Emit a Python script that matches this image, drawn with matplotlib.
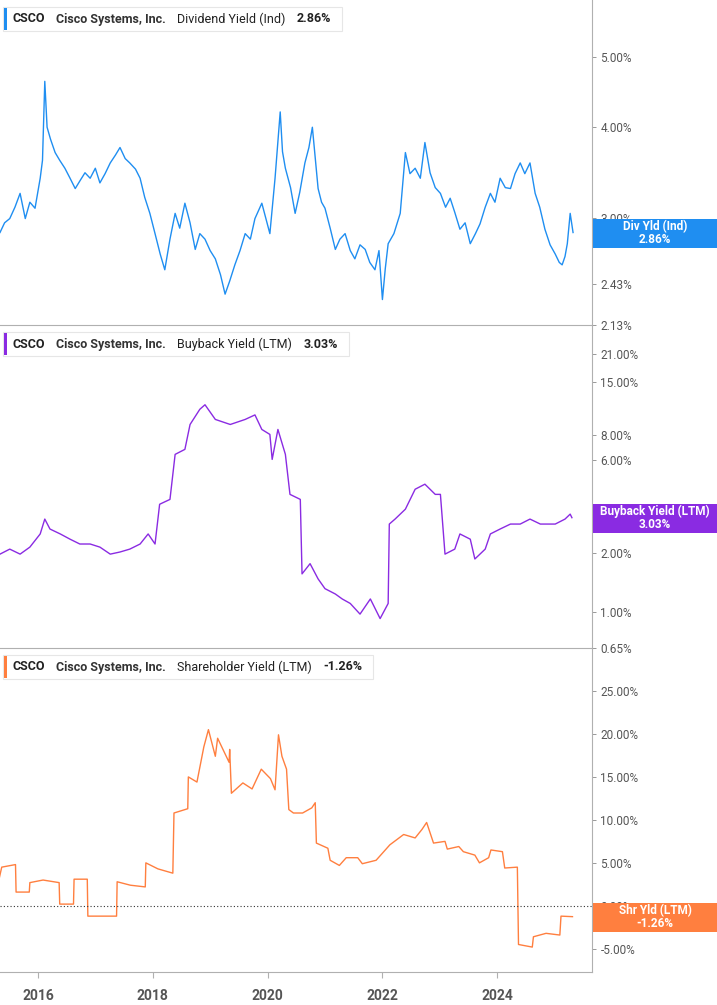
import matplotlib
matplotlib.use("Agg")
import matplotlib.pyplot as plt
from matplotlib.patches import Rectangle
import matplotlib.ticker as mticker

plt.rcParams["font.family"] = "Roboto"

# Dividend yield (Ind), %
div_years = [2015.34, 2015.42, 2015.51, 2015.60, 2015.69, 2015.78, 2015.86, 2015.95, 2016.04, 2016.08,
             2016.12, 2016.16, 2016.22, 2016.30, 2016.38, 2016.47, 2016.56, 2016.65, 2016.74, 2016.82,
             2016.91, 2017.00, 2017.08, 2017.17, 2017.26, 2017.35, 2017.43, 2017.52, 2017.60, 2017.70,
             2017.78, 2017.86, 2017.95, 2018.04, 2018.13, 2018.21, 2018.30, 2018.39, 2018.47, 2018.56,
             2018.65, 2018.74, 2018.82, 2018.91, 2019.00, 2019.09, 2019.18, 2019.26, 2019.34, 2019.43,
             2019.52, 2019.61, 2019.70, 2019.78, 2019.90, 2020.04, 2020.13, 2020.22, 2020.26, 2020.31,
             2020.40, 2020.48, 2020.56, 2020.65, 2020.72, 2020.78, 2020.88, 2020.94, 2021.00, 2021.09,
             2021.18, 2021.26, 2021.35, 2021.44, 2021.52, 2021.61, 2021.70, 2021.78, 2021.87, 2021.94,
             2022.00, 2022.05, 2022.10, 2022.20, 2022.31, 2022.40, 2022.48, 2022.57, 2022.66, 2022.74,
             2022.83, 2022.92, 2023.01, 2023.10, 2023.18, 2023.26, 2023.35, 2023.44, 2023.53, 2023.62,
             2023.70, 2023.79, 2023.88, 2023.96, 2024.05, 2024.14, 2024.23, 2024.31, 2024.40, 2024.48,
             2024.57, 2024.66, 2024.74, 2024.83, 2024.92, 2025.01, 2025.08, 2025.13, 2025.18, 2025.22,
             2025.27, 2025.32]
div_vals = [2.86, 2.95, 2.99, 3.10, 3.24, 2.99, 3.15, 3.09, 3.40, 3.60,
            4.63, 4.00, 3.85, 3.69, 3.60, 3.51, 3.40, 3.29, 3.38, 3.46,
            3.40, 3.51, 3.35, 3.45, 3.57, 3.66, 3.75, 3.62, 3.57, 3.50,
            3.40, 3.20, 3.04, 2.85, 2.67, 2.54, 2.80, 3.04, 2.90, 3.14,
            2.95, 2.71, 2.85, 2.80, 2.70, 2.63, 2.50, 2.35, 2.45, 2.58,
            2.70, 2.85, 2.80, 2.99, 3.14, 2.85, 3.40, 4.20, 3.70, 3.51,
            3.30, 3.04, 3.25, 3.57, 3.75, 4.00, 3.29, 3.15, 3.09, 2.90,
            2.71, 2.80, 2.85, 2.70, 2.63, 2.75, 2.71, 2.60, 2.54, 2.70,
            2.31, 2.55, 2.76, 2.85, 3.04, 3.69, 3.45, 3.51, 3.40, 3.81,
            3.46, 3.30, 3.24, 3.10, 3.19, 3.05, 2.89, 2.95, 2.76, 2.85,
            2.94, 3.10, 3.24, 3.15, 3.40, 3.30, 3.29, 3.45, 3.57, 3.45,
            3.57, 3.24, 3.10, 2.89, 2.75, 2.67, 2.60, 2.58, 2.65, 2.76,
            3.04, 2.86]

# Buyback yield (LTM), %
bb_years = [2015.34, 2015.51, 2015.69, 2015.86, 2016.04, 2016.12, 2016.21, 2016.39, 2016.56, 2016.73,
            2016.91, 2017.08, 2017.26, 2017.43, 2017.60, 2017.78, 2017.92, 2018.04, 2018.12, 2018.30,
            2018.39, 2018.56, 2018.65, 2018.82, 2018.91, 2019.09, 2019.35, 2019.61, 2019.78, 2019.90,
            2020.04, 2020.08, 2020.18, 2020.31, 2020.39, 2020.57, 2020.60, 2020.74, 2020.88, 2021.00,
            2021.18, 2021.30, 2021.44, 2021.61, 2021.79, 2021.96, 2022.10, 2022.12, 2022.22, 2022.40,
            2022.57, 2022.74, 2022.92, 2023.01, 2023.09, 2023.26, 2023.35, 2023.53, 2023.61, 2023.79,
            2023.88, 2024.05, 2024.23, 2024.40, 2024.57, 2024.75, 2025.01, 2025.18, 2025.27, 2025.30]
bb_vals = [1.97, 2.09, 1.97, 2.14, 2.50, 2.98, 2.65, 2.50, 2.35, 2.22,
           2.22, 2.14, 1.97, 2.02, 2.09, 2.22, 2.50, 2.22, 3.55, 3.76,
           6.40, 6.79, 9.11, 10.9, 11.5, 9.67, 9.11, 9.67, 10.2, 8.59,
           8.10, 6.03, 8.59, 6.40, 3.99, 3.76, 1.56, 1.76, 1.47, 1.31,
           1.23, 1.16, 1.10, 0.97, 1.16, 0.92, 1.10, 2.81, 2.98, 3.35,
           4.24, 4.50, 3.99, 3.99, 1.97, 2.09, 2.50, 2.35, 1.86, 2.09,
           2.50, 2.65, 2.81, 2.81, 2.98, 2.81, 2.81, 2.98, 3.16, 3.03]

# Shareholder yield (LTM), %
shr_years = [2015.33, 2015.37, 2015.61, 2015.62, 2015.85, 2015.86, 2016.09, 2016.37, 2016.38, 2016.62,
             2016.63, 2016.86, 2016.87, 2017.37, 2017.38, 2017.61, 2017.87, 2017.88, 2018.09, 2018.35,
             2018.37, 2018.61, 2018.62, 2018.77, 2018.89, 2018.97, 2019.09, 2019.13, 2019.33, 2019.34,
             2019.37, 2019.57, 2019.73, 2019.89, 2020.05, 2020.13, 2020.19, 2020.25, 2020.33, 2020.37,
             2020.45, 2020.61, 2020.77, 2020.83, 2020.85, 2021.05, 2021.09, 2021.25, 2021.37, 2021.57,
             2021.65, 2021.89, 2022.01, 2022.13, 2022.37, 2022.57, 2022.69, 2022.77, 2022.89, 2023.09,
             2023.13, 2023.33, 2023.41, 2023.61, 2023.69, 2023.85, 2023.89, 2024.09, 2024.13, 2024.35,
             2024.37, 2024.61, 2024.63, 2024.85, 2025.09, 2025.11, 2025.31]
shr_vals = [3.3, 4.5, 4.8, 1.6, 1.6, 2.7, 3.0, 2.7, 0.2, 0.2,
            3.1, 3.1, -1.2, -1.2, 2.8, 2.4, 2.2, 5.0, 4.3, 3.8,
            10.8, 11.3, 15.0, 14.4, 18.5, 20.5, 17.4, 19.5, 16.7, 18.2,
            13.1, 14.3, 13.6, 15.9, 14.8, 13.5, 19.9, 17.4, 15.9, 11.2,
            10.8, 10.8, 11.4, 12.0, 7.3, 6.7, 5.3, 4.7, 5.6, 5.6,
            4.9, 5.3, 6.2, 7.1, 8.3, 7.9, 8.9, 9.7, 7.3, 7.5,
            6.6, 6.9, 6.3, 5.9, 5.0, 5.6, 6.5, 6.3, 4.4, 4.5,
            -4.5, -4.8, -3.6, -3.2, -3.4, -1.2, -1.26]

div_ticks = [2.13, 2.43, 3.0, 4.0, 5.0]
bb_ticks = [0.65, 1.0, 2.0, 6.0, 8.0, 15.0, 21.0]
shr_ticks = [-5, 0, 5, 10, 15, 20, 25]
year_ticks = [2016, 2018, 2020, 2022, 2024]

BLUE = "#1f8ef1"
PURPLE = "#8a2be2"
ORANGE = "#ff7f3f"
GRID = "#b0b0b0"

W, H = 717, 1005
fig = plt.figure(figsize=(W / 100, H / 100), dpi=100)

panels = [
    dict(top=0, bot=325, x=div_years, y=div_vals, color=BLUE, log=True, lim=(2.13, 6.0),
         ticks=div_ticks, name="Dividend Yield (Ind)", val="2.86%", box="Div Yld (Ind)"),
    dict(top=325, bot=648, x=bb_years, y=bb_vals, color=PURPLE, log=True, lim=(0.65, 29.5),
         ticks=bb_ticks, name="Buyback Yield (LTM)", val="3.03%", box="Buyback Yield (LTM)"),
    dict(top=648, bot=972, x=shr_years, y=shr_vals, color=ORANGE, log=False, lim=(-7.7, 30.0),
         ticks=shr_ticks, name="Shareholder Yield (LTM)", val="-1.26%", box="Shr Yld (LTM)"),
]

axes = []
for i, p in enumerate(panels):
    ax = fig.add_axes([0, 1 - p["bot"] / H, 592 / W, (p["bot"] - p["top"]) / H])
    ax.plot(p["x"], p["y"], color=p["color"], lw=1.0)
    if p["log"]:
        ax.set_yscale("log")
    ax.set_ylim(*p["lim"])
    ax.set_xlim(2015.34, 2025.65)
    ax.yaxis.tick_right()
    ax.yaxis.set_minor_locator(mticker.NullLocator())
    ax.set_yticks(p["ticks"])
    ax.set_yticklabels(["%.2f%%" % t for t in p["ticks"]])
    ax.tick_params(axis="y", which="both", length=3, width=0.6, color="#888888",
                   labelsize=8.5, labelcolor="#555555", pad=3)
    for s in ["top", "left"]:
        ax.spines[s].set_visible(False)
    ax.spines["right"].set_color(GRID)
    ax.spines["bottom"].set_color(GRID)
    ax.set_xticks(year_ticks)
    if i < 2:
        ax.tick_params(axis="x", length=0, labelbottom=False)
    else:
        ax.set_xticklabels([str(y) for y in year_ticks])
        ax.tick_params(axis="x", length=4, color=GRID, labelsize=10, labelcolor="#555555", pad=8)
        for lab in ax.get_xticklabels():
            lab.set_fontweight("bold")
        ax.axhline(0, color="#333333", lw=0.8, ls=(0, (1, 2)))
    ax.patch.set_alpha(0)
    axes.append(ax)

fig.canvas.draw()
renderer = fig.canvas.get_renderer()

for i, (ax, p) in enumerate(zip(axes, panels)):
    # header box, texts placed one after another
    ty = H - p["top"] - 19
    x = 13
    parts = [("CSCO", "bold", "#222222"), ("Cisco Systems, Inc.", "bold", "#333333"),
             (p["name"], "normal", "#222222"), (p["val"], "bold", "#222222")]
    for txt, wt, col in parts:
        t = fig.text(x / W, ty / H, txt, fontsize=9, fontweight=wt, color=col, va="center", zorder=6)
        x += t.get_window_extent(renderer).width + 11
    box_w = x - 3
    fig.add_artist(Rectangle((3, ty - 12), box_w, 24, transform=None, facecolor="white",
                             edgecolor="#e6e6e6", lw=0.8, zorder=4))
    fig.add_artist(Rectangle((4, ty - 11), 3, 22, transform=None, facecolor=p["color"], zorder=5))

    # last value box on the right axis
    _, py = ax.transData.transform((2020, p["y"][-1]))
    fig.add_artist(Rectangle((593, py - 15), 124, 29, transform=None,
                             facecolor=p["color"], edgecolor="none", zorder=5))
    fig.text(655 / W, (py + 6) / H, p["box"], fontsize=8.5, fontweight="bold", color="white",
             ha="center", va="center", zorder=6)
    fig.text(655 / W, (py - 7) / H, p["val"], fontsize=8.5, fontweight="bold", color="white",
             ha="center", va="center", zorder=6)

fig.savefig("out.png", dpi=100)
